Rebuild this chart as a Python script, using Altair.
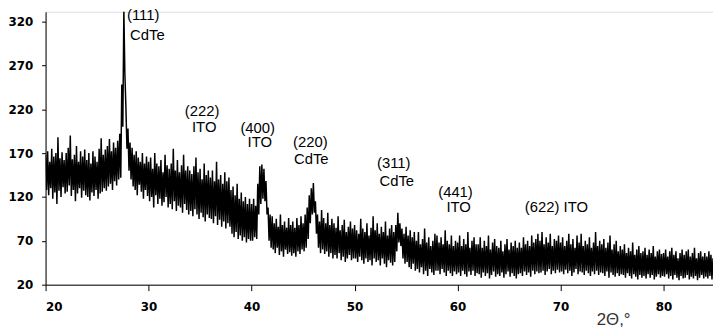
import altair as alt
import pandas as pd

# XRD scan: upper and lower envelope of the noisy trace,
# one pair every 0.2 degree from 20.0 to 84.8 (2-theta).
scan_start = 20.0
scan_step = 0.2

upper = [
    168,172,160,175,166,170,188,164,171,162,   # 20.0-21.8
    170,176,190,163,168,178,160,172,166,174,   # 22.0-23.8
    162,170,158,172,166,160,175,187,168,174,   # 24.0-25.8
    178,186,172,182,176,184,192,248,333,222,   # 26.0-27.8
    198,182,176,168,172,165,160,170,158,166,   # 28.0-29.8
    160,165,152,170,158,155,162,148,168,156,   # 30.0-31.8
    152,158,175,150,162,148,156,168,150,155,   # 32.0-33.8
    150,146,155,165,148,152,140,158,145,150,   # 34.0-35.8
    142,150,138,160,140,145,135,148,138,142,   # 36.0-37.8
    128,132,122,135,118,125,115,120,112,118,   # 38.0-39.8
    112,118,110,135,155,157,152,138,108,100,   # 40.0-41.8
    98,90,95,86,100,88,92,85,96,88,            # 42.0-43.8
    92,85,96,88,98,90,100,108,122,130,         # 44.0-45.8
    136,115,100,92,105,96,90,102,88,95,        # 46.0-47.8
    90,85,98,82,88,94,80,86,92,84,             # 48.0-49.8
    88,82,78,95,84,80,90,76,85,98,             # 50.0-51.8
    82,90,78,86,80,92,76,84,88,80,             # 52.0-53.8
    88,102,90,84,78,86,76,82,74,80,            # 54.0-55.8
    70,80,66,72,84,68,74,64,70,78,             # 56.0-57.8
    76,68,74,66,82,70,66,76,64,70,             # 58.0-59.8
    68,76,64,72,66,80,62,70,74,66,             # 60.0-61.8
    66,74,62,70,64,76,60,68,72,64,             # 62.0-63.8
    62,70,58,66,72,60,68,64,70,62,             # 64.0-65.8
    68,62,74,66,70,64,76,68,72,78,             # 66.0-67.8
    70,80,66,74,68,78,64,72,70,76,             # 68.0-69.8
    68,74,64,70,78,66,72,62,76,68,             # 70.0-71.8
    78,64,70,66,74,62,68,80,64,70,             # 72.0-73.8
    66,72,62,68,76,60,66,70,58,64,             # 74.0-75.8
    60,66,56,62,58,68,54,60,64,56,             # 76.0-77.8
    58,62,54,60,56,64,52,58,60,55,             # 78.0-79.8
    56,60,52,58,62,54,58,50,56,60,             # 80.0-81.8
    54,58,60,52,56,62,50,56,58,52,             # 82.0-83.8
    56,52,58,54,50,                            # 84.0-84.8
]

lower = [
    128,122,130,118,125,112,127,120,131,124,
    126,133,121,128,115,124,130,119,127,122,
    120,116,125,121,128,118,124,126,130,127,
    132,135,128,138,133,140,142,200,260,175,
    150,140,132,128,122,134,126,118,128,121,
    115,120,108,122,112,118,110,114,120,108,
    112,106,115,104,110,108,102,112,105,100,
    104,98,106,100,95,102,97,92,100,96,
    95,90,98,88,94,86,92,84,90,86,
    78,74,80,72,76,70,74,68,72,70,
    70,74,72,100,112,118,115,100,70,62,
    60,56,62,54,58,52,60,55,57,53,
    56,52,58,55,60,58,62,72,90,100,
    102,78,62,56,60,55,58,52,56,50,
    54,50,56,48,52,46,50,54,48,50,
    50,46,52,48,44,50,46,48,42,50,
    46,48,42,50,44,40,48,45,42,46,
    58,68,64,50,44,46,40,38,44,36,
    38,34,40,32,36,30,38,34,31,36,
    36,32,38,34,30,36,33,30,35,32,
    34,30,36,32,29,35,31,36,30,33,
    32,28,34,30,33,27,31,35,29,32,
    30,34,28,32,35,29,33,30,27,32,
    33,30,35,31,34,29,36,32,35,33,
    34,36,31,35,38,32,36,33,37,34,
    35,32,37,33,36,30,34,38,32,35,
    34,31,36,33,30,35,32,36,31,34,
    33,30,35,28,34,31,29,33,30,32,
    31,28,33,30,27,32,29,26,31,28,
    30,27,32,28,31,26,29,32,28,30,
    29,32,27,30,26,31,28,25,30,27,
    28,31,26,29,27,30,25,28,31,27,
    29,27,30,26,28,
]

# Peak annotations
ann_text = ["(111)", "CdTe", "(222)", "ITO", "(400)", "ITO", "(220)", "CdTe",
            "(311)", "CdTe", "(441)", "ITO", "(622) ITO"]
ann_x = [27.9, 28.2, 35.2, 35.4, 40.6, 40.8, 45.7, 45.8, 53.8, 54.1, 59.8, 60.1, 69.6]
ann_y = [327, 305, 218, 200, 198, 182, 182, 163, 159, 138, 126, 109, 109]
ann_align = ["left", "left", "center", "center", "center", "center", "center",
             "center", "center", "center", "center", "center", "center"]

rows = []
for i, (u, l) in enumerate(zip(upper, lower)):
    x0 = scan_start + i * scan_step
    rows.append({"two_theta": round(x0, 2), "intensity": u})
    rows.append({"two_theta": round(x0 + scan_step / 2, 2), "intensity": l})
scan = pd.DataFrame(rows)

ann = pd.DataFrame({"text": ann_text, "x": ann_x, "y": ann_y, "align": ann_align})

xscale = alt.Scale(domain=[20, 84.8], nice=False, zero=False)
yscale = alt.Scale(domain=[20, 331], nice=False, zero=False)

line = alt.Chart(scan).mark_line(color="black", strokeWidth=1.5, clip=True).encode(
    x=alt.X("two_theta:Q", scale=xscale,
            axis=alt.Axis(values=[20, 30, 40, 50, 60, 70, 80], title="2Θ,°",
                          titleX=574, titleY=35, titleAlign="center",
                          titleBaseline="middle", titleFont="Liberation Sans",
                          titleFontSize=17, titleFontWeight="normal",
                          titleColor="#333", labelFont="DejaVu Sans",
                          labelFontWeight="bold", labelFontSize=12,
                          labelColor="black", tickSize=6, labelPadding=11,
                          tickColor="black", domainColor="black", grid=False)),
    y=alt.Y("intensity:Q", scale=yscale,
            axis=alt.Axis(values=[20, 70, 120, 170, 220, 270, 320], title=None,
                          labelFont="DejaVu Sans", labelFontWeight="bold",
                          labelFontSize=12, labelColor="black", tickSize=4,
                          labelPadding=9, tickColor="black", domainColor="black",
                          grid=False)),
)

left_text = alt.Chart(ann[ann["align"] == "left"]).mark_text(
    align="left", baseline="middle", font="Liberation Sans", fontSize=15,
    color="black").encode(x=alt.X("x:Q", scale=xscale), y=alt.Y("y:Q", scale=yscale),
                          text="text:N")
center_text = alt.Chart(ann[ann["align"] == "center"]).mark_text(
    align="center", baseline="middle", font="Liberation Sans", fontSize=15,
    color="black").encode(x=alt.X("x:Q", scale=xscale), y=alt.Y("y:Q", scale=yscale),
                          text="text:N")

chart = (line + left_text + center_text).properties(
    width=675, height=276,
    autosize=alt.AutoSizeParams(type="none"),
    padding={"left": 38, "top": 2, "right": 0, "bottom": 45},
).configure_view(stroke=None).configure(background="white")

chart.save("out.html", embed_options={"renderer": "svg", "actions": False})
